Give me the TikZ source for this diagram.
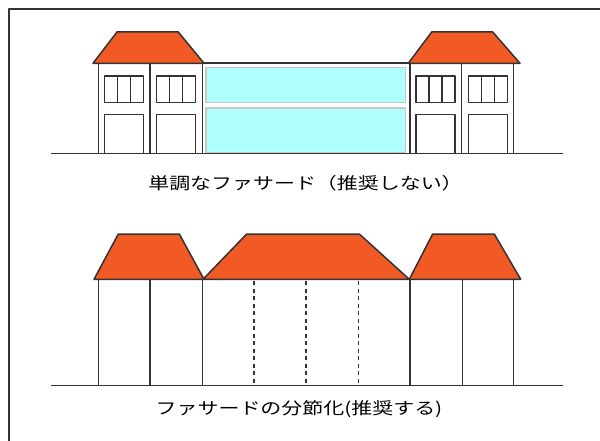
\documentclass[tikz,border=0pt]{standalone}
\usepackage{fontspec}
\newfontfamily\jpfont{Noto Sans CJK JP}
\definecolor{roofc}{HTML}{F15A24}
\definecolor{glass}{HTML}{B0FFFF}
\definecolor{inkc}{HTML}{333333}
\begin{document}
\begin{tikzpicture}[x=1pt,y=-1pt,line join=round,
  edge/.style={draw=inkc,line width=1.5pt},
  roof/.style={fill=roofc,draw=inkc,line width=1.5pt},
  pane/.style={fill=glass,draw=black!22,line width=1.5pt},
  dashwall/.style={draw=inkc,line width=1.4pt,dash pattern=on 4pt off 3.5pt},
  caption/.style={font=\jpfont\fontsize{16.5}{16.5}\selectfont,xscale=1.27,inner sep=0pt}]
\useasboundingbox (0,0) rectangle (600,441);
\fill[white] (0,0) rectangle (600,441);
% sheet edge
\draw[edge] (9,441) -- (9,9) -- (600,9);

% ---------- monotonous facade ----------
% glazed middle block
\draw[edge] (202,63) -- (410,63);
\draw[pane] (206,67.5) rectangle (405.5,102.5);
\draw[pane] (206,108) rectangle (405.5,153);
% end houses: walls
\foreach \w in {98.3,150,202.3,410,461.7,513.3}
  \draw[edge] (\w,63) -- (\w,153);
% windows and doors
\foreach \x in {104.3,156.7,416,468.3}{
  \draw[edge] (\x,76) rectangle ++(39,26.5);
  \draw[edge] (\x+13,76) -- ++(0,26.5);
  \draw[edge] (\x+26,76) -- ++(0,26.5);
  \draw[edge] (\x,114.3) -- (\x,153) (\x,114.3) -- (\x+39,114.3) -- (\x+39,153);
}
% roofs
\draw[roof] (93,63.3) -- (117,32) -- (178.3,32) -- (204,63.3) -- cycle;
\draw[roof] (408.3,63.3) -- (431.7,32) -- (492.7,32) -- (520,63.3) -- cycle;
% ground
\draw[edge] (50.7,153.3) -- (562.7,153.3);
\node[caption] (capA) at (305.5,183) {単調なファサード（推奨しない）};

% ---------- articulated facade ----------
\foreach \w in {98.3,150,202.3,410,462.3,513.7}
  \draw[edge] (\w,279.3) -- (\w,385.7);
\foreach \w in {254,306,358.3}
  \draw[dashwall] (\w,281) -- (\w,385.7);
\draw[roof] (94,279.3) -- (118.3,234) -- (179.3,234) -- (204,279.3) -- cycle;
\draw[roof] (203,279.3) -- (246.7,234) -- (359.3,234) -- (409.3,279.3) -- cycle;
\draw[roof] (409.3,279.3) -- (432.7,234) -- (494.3,234) -- (520.7,279.3) -- cycle;
\draw[edge] (50.7,385.7) -- (562.7,385.7);
\node[caption] (capB) at (299,409) {ファサードの分節化(推奨する)};
\end{tikzpicture}
\end{document}
